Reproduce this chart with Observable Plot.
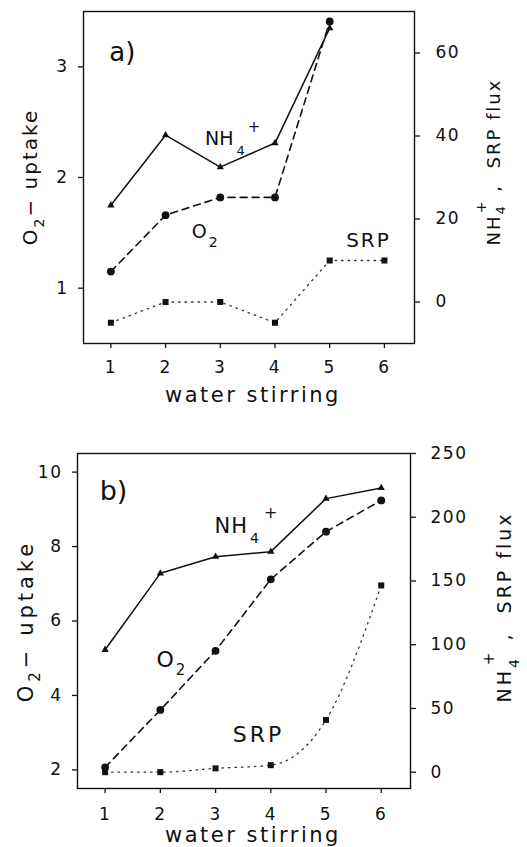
<!DOCTYPE html>
<html><head><meta charset="utf-8">
<script src="https://cdn.jsdelivr.net/npm/d3@7"></script>
<script src="https://cdn.jsdelivr.net/npm/@observablehq/plot@0.6"></script>
<style>
body{margin:0;background:#fff;}
#wrap{position:relative;width:527px;height:847px;overflow:hidden;}
.layer{position:absolute;left:0;}
</style></head><body><div id="wrap"></div>
<script>
// ---- data ----
const stirring = [1, 2, 3, 4, 5, 6];
const xTicks = [1, 2, 3, 4, 5, 6];
// panel a
const aO2  = [1.15, 1.66, 1.82, 1.82, 3.41, null];
const aNH4 = [23.3, 40.2, 32.5, 38.3, 66, null];
const aSRP = [-5, 0, 0, -5, 10, 10];
const aLeftTicks  = [1, 2, 3];
const aRightTicks = [0, 20, 40, 60];
// panel b
const bO2  = [2.07, 3.61, 5.2, 7.12, 8.4, 9.24];
const bNH4 = [96, 156, 169, 173, 214.6, 223];
const bSRP = [0, 0, 3, 5.5, 41, 146.5];
const bLeftTicks  = [2, 4, 6, 8, 10];
const bRightTicks = [0, 50, 100, 150, 200, 250];
// texts
const xTitle = "water stirring";

const rows = vals => stirring.map((x, i) => ({x, v: vals[i]})).filter(d => d.v != null);
const FONT = "'DejaVu Sans', sans-serif";
const fmt = d => String(d);

function addText(svg, x, y, rot, size, ls, parts, anchor = "start") {
  const t = d3.select(svg).append("text")
    .attr("transform", `translate(${x},${y})` + (rot ? ` rotate(${rot})` : ""))
    .attr("text-anchor", anchor).attr("font-size", size)
    .attr("letter-spacing", ls).attr("fill", "#111")
    .attr("font-family", FONT);
  for (const p of parts) {
    const s = t.append("tspan").text(p.t);
    if (p.dx) s.attr("dx", p.dx);
    if (p.dy) s.attr("dy", p.dy);
    if (p.size) s.attr("font-size", p.size);
  }
}

function panel(cfg) {
  const holder = document.createElement("div");
  holder.className = "layer";
  holder.style.top = cfg.top + "px";
  holder.style.width = "527px";
  holder.style.height = cfg.height + "px";
  document.getElementById("wrap").appendChild(holder);
  const common = {
    width: 527, height: cfg.height,
    marginLeft: cfg.ml, marginRight: cfg.mr, marginTop: cfg.mt, marginBottom: cfg.mb
  };
  const style = {fontFamily: FONT, fontSize: "17px", letterSpacing: "1.5px",
                 background: "transparent", overflow: "visible", color: "#111"};
  const base = Plot.plot({
    ...common, x: {domain: cfg.xDomain}, y: {domain: cfg.leftDomain}, style,
    marks: [
      Plot.frame({stroke: "#111", strokeWidth: 1.4}),
      Plot.axisX({ticks: xTicks, tickFormat: fmt, tickSize: 5, tickPadding: cfg.xPad, label: null, strokeWidth: 1.3}),
      Plot.axisY({ticks: cfg.leftTicks, tickFormat: fmt, tickSize: 5, tickPadding: 10, label: null, strokeWidth: 1.3}),
      Plot.line(rows(cfg.o2), {x: "x", y: "v", stroke: "#111", strokeWidth: 1.6, strokeDasharray: "7,5"}),
      Plot.dot(rows(cfg.o2), {x: "x", y: "v", fill: "#111", r: 3.9, symbol: "circle"})
    ]
  });
  const over = Plot.plot({
    ...common, x: {domain: cfg.xDomain, axis: null}, y: {domain: cfg.rightDomain}, style,
    marks: [
      Plot.axisY({anchor: "right", ticks: cfg.rightTicks, tickFormat: fmt, tickSize: 5, tickPadding: cfg.rPad, label: null, strokeWidth: 1.3}),
      Plot.line(rows(cfg.srp), {x: "x", y: "v", stroke: "#333", strokeWidth: 1.3, strokeDasharray: "1.5,5", curve: cfg.srpCurve}),
      Plot.dot(rows(cfg.srp), {x: "x", y: "v", fill: "#111", r: 3.4, symbol: "square"}),
      Plot.line(rows(cfg.nh4), {x: "x", y: "v", stroke: "#111", strokeWidth: 1.5}),
      Plot.dot(rows(cfg.nh4), {x: "x", y: "v", fill: "#111", r: 2.7, symbol: "triangle"})
    ]
  });
  base.style.position = "absolute"; base.style.left = "0"; base.style.top = "0";
  over.style.position = "absolute"; over.style.left = "0"; over.style.top = "0";
  holder.appendChild(base);
  holder.appendChild(over);
  const sx = base.scale("x"), sy = base.scale("y");
  const X = v => sx.apply(v), Y = v => sy.apply(v);
  const A = cfg.ann;
  // panel letter
  addText(base, X(A.letter[0]), Y(A.letter[1]), 0, A.letterSize, 0, [{t: cfg.letter}]);
  // NH4+
  addText(base, X(A.nh[0]), Y(A.nh[1]), 0, A.nhSize, A.nhLs, [
    {t: "NH"}, {t: "4", size: A.nhSub, dx: A.nhDx1, dy: A.nhDy1}, {t: "+", size: A.nhSup, dx: A.nhDx2, dy: A.nhDy2}
  ]);
  // O2
  addText(base, X(A.o2[0]), Y(A.o2[1]), 0, A.o2Size, 0, [
    {t: "O"}, {t: "2", size: A.o2Sub, dx: 2, dy: A.o2Dy}
  ]);
  // SRP
  addText(base, X(A.srp[0]), Y(A.srp[1]), 0, A.srpSize, A.srpLs, [{t: "SRP"}]);
  // x title
  addText(base, cfg.xt[0], cfg.xt[1], 0, cfg.xtSize, cfg.xtLs, [{t: xTitle}], "middle");
  // left title
  addText(base, cfg.lt[0], cfg.lt[1], -90, cfg.ltSize, cfg.ltLs, [
    {t: "O"}, {t: "2", size: cfg.ltSize - 6, dy: 7}, {t: "− uptake", dy: -7}
  ], "middle");
  // right title
  addText(base, cfg.rt[0], cfg.rt[1], -90, cfg.rtSize, cfg.rtLs, [
    {t: "NH"}, {t: "4", size: cfg.rtSize - 5, dy: cfg.rtSubDy},
    {t: "+", size: cfg.rtSize - 4, dx: -9, dy: cfg.rtSupDy},
    {t: " ,  SRP flux", dy: -(cfg.rtSubDy + cfg.rtSupDy)}
  ], "middle");
}

panel({
  top: 0, height: 420, ml: 83, mr: 113, mt: 11, mb: 77,
  xDomain: [0.5, 6.55], leftDomain: [0.5, 3.5], rightDomain: [-10, 70],
  leftTicks: aLeftTicks, rightTicks: aRightTicks, xPad: 12, rPad: 16, srpCurve: "linear",
  o2: aO2, nh4: aNH4, srp: aSRP, letter: "a)",
  ann: {letter: [0.98, 3.05], letterSize: 26,
        nh: [2.73, 2.29], nhSize: 19, nhLs: 0, nhSub: 13, nhSup: 15, nhDx1: 3, nhDy1: 10, nhDx2: 3, nhDy2: -23,
        o2: [2.49, 1.45], o2Size: 19, o2Sub: 14, o2Dy: 9,
        srp: [5.31, 1.37], srpSize: 20, srpLs: 2},
  xt: [253, 402], xtSize: 21, xtLs: 2.5,
  lt: [37, 177], ltSize: 20, ltLs: 2,
  rt: [500, 162], rtSize: 18, rtLs: 2, rtSubDy: 5, rtSupDy: -19
});

panel({
  top: 420, height: 427, ml: 77, mr: 117, mt: 33, mb: 59,
  xDomain: [0.5, 6.53], leftDomain: [1.5, 10.5], rightDomain: [-12.8, 250],
  leftTicks: bLeftTicks, rightTicks: bRightTicks, xPad: 14, rPad: 15, srpCurve: "monotone-x",
  o2: bO2, nh4: bNH4, srp: bSRP, letter: "b)",
  ann: {letter: [0.91, 9.24], letterSize: 27,
        nh: [2.99, 8.35], nhSize: 21, nhLs: 1, nhSub: 14, nhSup: 16, nhDx1: 2, nhDy1: 10, nhDx2: 4, nhDy2: -25,
        o2: [1.94, 4.75], o2Size: 22, o2Sub: 15, o2Dy: 8,
        srp: [3.32, 2.74], srpSize: 22, srpLs: 3},
  xt: [253, 422], xtSize: 21, xtLs: 2.5,
  lt: [33, 201], ltSize: 21, ltLs: 4,
  rt: [511, 187], rtSize: 19, rtLs: 3, rtSubDy: 8, rtSupDy: -25
});
</script>
</body></html>
